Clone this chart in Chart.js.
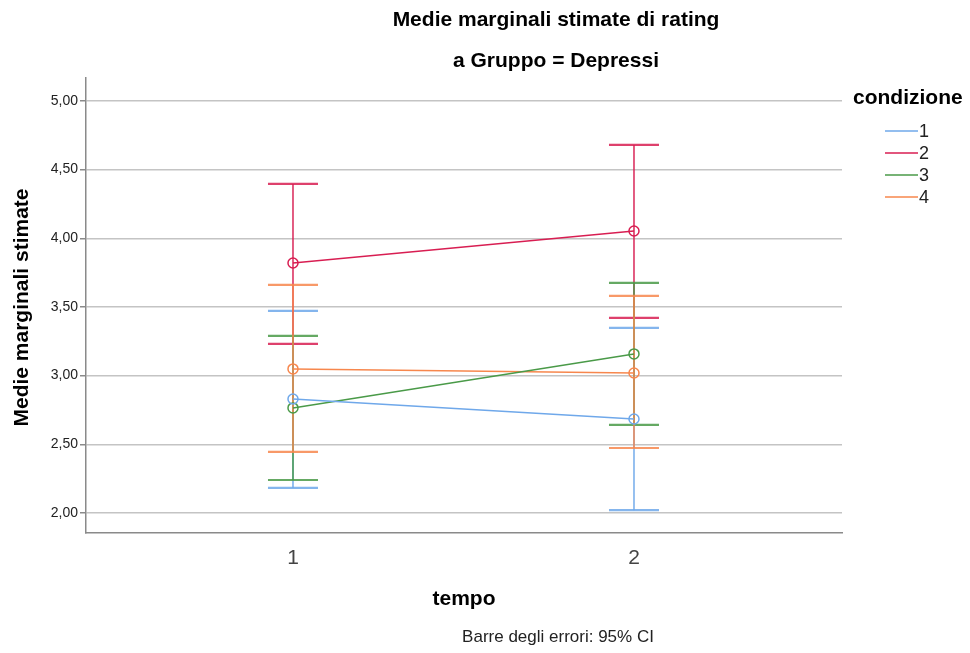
<!DOCTYPE html>
<html>
<head>
<meta charset="utf-8">
<script src="https://cdn.jsdelivr.net/npm/chart.js@4/dist/chart.umd.min.js"></script>
<style>
  html, body { margin: 0; padding: 0; background: #fff; }
  #wrap { width: 970px; height: 653px; }
</style>
</head>
<body>
<div id="wrap"><canvas id="emm"></canvas></div>
<script>
'use strict';
// tempo levels and the four condizione groups
var tempo = [1, 2];
var condizioni = ['1', '2', '3', '4'];
var colori = ['#6fa8ea', '#d81e52', '#4a9a48', '#f7874d'];

// estimated marginal means per condizione, one value per tempo
var media1 = [2.83, 2.684];
var media2 = [3.82, 4.053];
var media3 = [2.765, 3.158];
var media4 = [3.049, 3.019];

// 95% CI limits
var inf1 = [2.182, 2.02];
var sup1 = [3.471, 3.347];
var inf2 = [3.231, 3.42];
var sup2 = [4.396, 4.68];
var inf3 = [2.24, 2.641];
var sup3 = [3.289, 3.675];
var inf4 = [2.444, 2.473];
var sup4 = [3.66, 3.58];

var yTicks = [2, 2.5, 3, 3.5, 4, 4.5, 5];
var xTicks = [1, 2];

var medie = [media1, media2, media3, media4];
var inferiori = [inf1, inf2, inf3, inf4];
var superiori = [sup1, sup2, sup3, sup4];

var FONT = '"Liberation Sans", Arial, sans-serif';

var datasets = condizioni.map(function (c, i) {
  return {
    label: c,
    data: tempo.map(function (t, j) { return {x: t, y: medie[i][j]}; }),
    borderColor: colori[i],
    backgroundColor: 'rgba(0,0,0,0)',
    borderWidth: 1.5,
    pointRadius: 5,
    pointBorderWidth: 1.5,
    pointStyle: 'circle',
    tension: 0,
    ciLow: inferiori[i],
    ciHigh: superiori[i]
  };
});

// vertical CI lines with caps
var barreErrori = {
  id: 'barreErrori',
  beforeDatasetsDraw: function (chart) {
    var ctx = chart.ctx;
    var xs = chart.scales.x, ys = chart.scales.y;
    ctx.save();
    chart.data.datasets.forEach(function (ds) {
      ctx.strokeStyle = ds.borderColor;
      ctx.globalAlpha = 0.85;
      tempo.forEach(function (t, j) {
        var px = xs.getPixelForValue(t);
        var lo = ys.getPixelForValue(ds.ciLow[j]);
        var hi = ys.getPixelForValue(ds.ciHigh[j]);
        ctx.lineWidth = 1.7;
        ctx.beginPath();
        ctx.moveTo(px, lo); ctx.lineTo(px, hi);
        ctx.stroke();
        ctx.lineWidth = 2.2;
        ctx.beginPath();
        ctx.moveTo(px - 25, hi); ctx.lineTo(px + 25, hi);
        ctx.moveTo(px - 25, lo); ctx.lineTo(px + 25, lo);
        ctx.stroke();
      });
    });
    ctx.restore();
  }
};

// titles, axis titles, legend and footnote
var testi = {
  id: 'testi',
  afterDraw: function (chart) {
    var ctx = chart.ctx;
    var area = chart.chartArea;
    ctx.save();
    ctx.fillStyle = '#000';
    ctx.textAlign = 'center';
    ctx.textBaseline = 'middle';
    ctx.font = 'bold 21px ' + FONT;
    ctx.fillText('Medie marginali stimate di rating', 556, 20);
    ctx.fillText('a Gruppo = Depressi', 556, 61);
    ctx.fillText('tempo', 464, 599);

    ctx.save();
    ctx.translate(22, (area.top + area.bottom) / 2 + 2);
    ctx.rotate(-Math.PI / 2);
    ctx.fillText('Medie marginali stimate', 0, 0);
    ctx.restore();

    ctx.font = '17px ' + FONT;
    ctx.fillStyle = '#222';
    ctx.fillText('Barre degli errori: 95% CI', 558, 637);

    // legend
    ctx.textAlign = 'left';
    ctx.fillStyle = '#000';
    ctx.font = 'bold 21px ' + FONT;
    ctx.fillText('condizione', 853, 98);
    ctx.font = '18px ' + FONT;
    chart.data.datasets.forEach(function (ds, i) {
      var y = 131 + i * 22;
      ctx.strokeStyle = ds.borderColor;
      ctx.lineWidth = 1.5;
      ctx.beginPath();
      ctx.moveTo(885, y); ctx.lineTo(918, y);
      ctx.stroke();
      ctx.fillStyle = '#222';
      ctx.fillText(ds.label, 919, y + 1);
    });
    ctx.restore();
  }
};

new Chart(document.getElementById('emm'), {
  type: 'line',
  data: {datasets: datasets},
  plugins: [barreErrori, testi],
  options: {
    responsive: true,
    maintainAspectRatio: false,
    animation: false,
    layout: {padding: {left: 0, top: 78, right: 128, bottom: 0}},
    plugins: {legend: {display: false}, title: {display: false}, tooltip: {enabled: false}},
    scales: {
      x: {
        type: 'linear',
        min: 0.393,
        max: 2.61,
        afterBuildTicks: function (s) { s.ticks = xTicks.map(function (v) { return {value: v}; }); },
        afterFit: function (s) { s.height = 120; },
        grid: {display: false, drawTicks: false},
        border: {color: '#8a8a8a', width: 1.5},
        ticks: {
          color: '#444',
          font: {family: FONT, size: 21},
          padding: 13,
          callback: function (v) { return String(v); }
        }
      },
      y: {
        min: 1.854,
        max: 5.167,
        afterBuildTicks: function (s) { s.ticks = yTicks.map(function (v) { return {value: v}; }); },
        afterFit: function (s) { s.width = 86; },
        grid: {color: '#c4c4c4', lineWidth: 1.5, tickLength: 6, tickColor: '#8a8a8a'},
        border: {color: '#8a8a8a', width: 1.5},
        ticks: {
          color: '#222',
          font: {family: FONT, size: 14},
          padding: 2,
          callback: function (v) { return v.toFixed(2).replace('.', ','); }
        }
      }
    }
  }
});
</script>
</body>
</html>
